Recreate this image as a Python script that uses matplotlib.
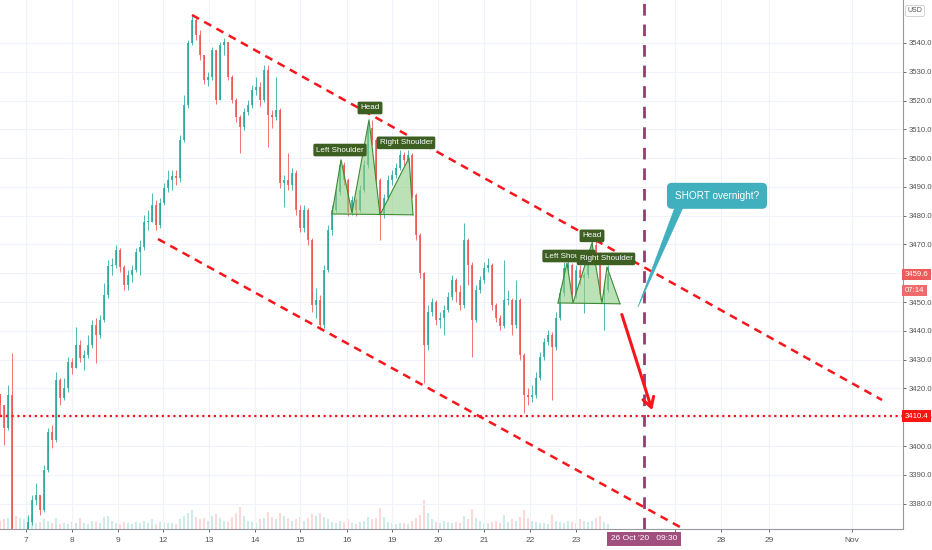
import matplotlib
matplotlib.use("Agg")
import matplotlib.pyplot as plt
from matplotlib import font_manager
from matplotlib.patches import Polygon

# ES 2h candles, 6 Oct - 23 Oct 2020
closes = [3414.3, 3406.3, 3417.8, 3365.7, 3363.3, 3364.6, 3367.4, 3373.7, 3381.3, 3383.1,
          3377.8, 3391.7, 3404.9, 3402.2, 3423.0, 3416.7, 3420.2, 3429.2, 3427.1, 3435.1,
          3430.6, 3431.7, 3435.1, 3442.1, 3438.6, 3443.8, 3452.5, 3462.6, 3462.9, 3468.1,
          3462.2, 3456.0, 3459.4, 3461.2, 3467.4, 3469.2, 3477.9, 3477.9, 3483.7, 3476.8,
          3484.4, 3489.7, 3492.4, 3493.8, 3493.1, 3506.3, 3518.5, 3540.0, 3548.0, 3542.8,
          3535.8, 3527.2, 3528.2, 3537.6, 3520.2, 3539.3, 3540.3, 3528.2, 3520.2, 3514.3,
          3510.8, 3516.0, 3518.5, 3523.7, 3524.7, 3520.2, 3530.6, 3515.0, 3514.3, 3516.7,
          3491.4, 3492.4, 3490.7, 3494.9, 3482.0, 3475.8, 3482.0, 3471.6, 3449.0, 3450.8,
          3442.1, 3461.2, 3475.1, 3482.0, 3488.3, 3497.6, 3492.4, 3481.3, 3485.5, 3482.0,
          3489.0, 3497.6, 3510.5, 3506.3, 3492.4, 3480.3, 3486.2, 3492.4, 3494.2, 3496.6,
          3501.1, 3499.4, 3501.1, 3487.2, 3473.3, 3460.2, 3435.1, 3446.6, 3450.1, 3443.8,
          3444.5, 3447.3, 3451.8, 3457.7, 3453.5, 3449.0, 3471.6, 3462.9, 3443.8, 3454.2,
          3457.7, 3461.9, 3462.9, 3449.0, 3444.5, 3441.7, 3450.8, 3450.8, 3442.1, 3450.8,
          3431.7, 3417.8, 3417.1, 3417.8, 3423.7, 3431.0, 3436.2, 3438.6, 3434.4, 3444.5,
          3453.2, 3461.9, 3462.9, 3452.5, 3461.2, 3458.4, 3459.4, 3465.3, 3469.9, 3466.4,
          3452.5, 3454.2, 3459.6]
highs = [3417.8, 3414.3, 3421.3, 3432.4, 3367.4, 3368.1, 3370.9, 3376.1, 3383.1, 3387.2,
         3383.1, 3393.5, 3406.3, 3407.4, 3425.8, 3423.7, 3423.7, 3431.0, 3430.6, 3441.4,
         3436.9, 3433.4, 3438.6, 3443.8, 3444.5, 3445.6, 3456.7, 3464.7, 3465.3, 3469.9,
         3468.8, 3462.9, 3461.2, 3462.9, 3468.8, 3471.6, 3480.3, 3482.0, 3487.9, 3485.5,
         3486.2, 3491.4, 3495.9, 3495.9, 3495.9, 3508.1, 3521.9, 3541.0, 3549.7, 3548.7,
         3544.5, 3535.8, 3529.9, 3538.6, 3537.6, 3540.3, 3541.7, 3540.3, 3528.9, 3520.9,
         3515.0, 3517.4, 3520.2, 3525.4, 3528.2, 3526.5, 3532.4, 3532.4, 3516.7, 3528.2,
         3517.4, 3494.2, 3501.8, 3496.6, 3495.9, 3483.7, 3483.7, 3482.7, 3472.3, 3454.9,
         3452.5, 3462.9, 3476.8, 3483.7, 3489.7, 3499.4, 3498.7, 3493.1, 3486.9, 3486.2,
         3490.7, 3499.4, 3511.9, 3513.3, 3507.0, 3493.1, 3487.6, 3494.2, 3495.9, 3498.3,
         3502.8, 3502.2, 3502.8, 3501.8, 3487.9, 3474.0, 3460.5, 3449.0, 3451.5, 3450.8,
         3446.6, 3449.0, 3453.5, 3459.4, 3458.4, 3456.0, 3477.5, 3472.3, 3463.9, 3456.0,
         3459.1, 3463.9, 3465.3, 3463.6, 3449.7, 3445.6, 3464.7, 3454.2, 3451.5, 3457.7,
         3451.5, 3432.4, 3420.2, 3421.3, 3425.8, 3432.7, 3437.6, 3440.3, 3439.6, 3446.6,
         3454.9, 3463.9, 3465.3, 3463.6, 3462.9, 3462.9, 3460.5, 3467.4, 3471.6, 3471.6,
         3467.4, 3456.0, 3462.9]
lows = [3410.8, 3400.4, 3405.6, 3360.5, 3358.7, 3360.5, 3362.2, 3365.7, 3372.6, 3379.6,
        3376.1, 3377.2, 3391.0, 3399.4, 3401.5, 3414.3, 3416.0, 3418.8, 3425.1, 3427.1,
        3429.2, 3426.5, 3430.6, 3434.1, 3428.9, 3437.6, 3443.1, 3451.5, 3459.4, 3461.9,
        3460.5, 3454.2, 3454.2, 3457.0, 3460.5, 3459.4, 3468.1, 3475.1, 3477.9, 3475.1,
        3475.8, 3483.7, 3488.3, 3489.0, 3490.7, 3491.7, 3505.6, 3517.4, 3539.3, 3541.0,
        3534.1, 3525.8, 3525.1, 3527.2, 3518.8, 3520.2, 3535.8, 3527.2, 3519.2, 3512.6,
        3501.8, 3509.8, 3515.0, 3517.4, 3521.9, 3518.1, 3519.5, 3503.9, 3510.5, 3513.3,
        3489.7, 3483.0, 3489.0, 3489.0, 3480.3, 3474.4, 3474.4, 3469.9, 3446.6, 3444.5,
        3440.3, 3441.0, 3460.5, 3473.3, 3481.3, 3487.2, 3490.7, 3479.9, 3480.3, 3479.9,
        3481.3, 3488.3, 3496.6, 3504.6, 3490.7, 3471.6, 3479.2, 3485.5, 3490.7, 3493.1,
        3495.9, 3497.6, 3498.7, 3486.2, 3471.6, 3458.4, 3422.0, 3433.4, 3445.2, 3442.1,
        3441.0, 3438.6, 3446.6, 3450.8, 3450.1, 3447.3, 3448.0, 3456.0, 3431.0, 3443.1,
        3453.2, 3456.7, 3460.5, 3447.3, 3443.1, 3440.3, 3441.0, 3449.0, 3438.6, 3441.0,
        3429.9, 3411.5, 3414.3, 3415.3, 3416.7, 3423.0, 3429.9, 3435.1, 3416.0, 3433.4,
        3443.8, 3452.2, 3460.5, 3450.8, 3451.5, 3456.0, 3446.3, 3458.4, 3464.7, 3464.7,
        3450.8, 3440.3, 3453.5]
volumes = [15, 18, 20, 60, 25, 20, 18, 22, 15, 12,
           14, 18, 16, 12, 20, 10, 12, 9, 14, 11,
           20, 12, 10, 16, 13, 11, 22, 25, 15, 12,
           10, 14, 11, 9, 13, 12, 15, 12, 18, 10,
           13, 14, 11, 12, 10, 18, 24, 30, 35, 22,
           18, 20, 15, 25, 28, 20, 16, 14, 22, 30,
           42, 25, 16, 14, 12, 18, 20, 32, 22, 18,
           30, 25, 20, 15, 18, 22, 16, 20, 28, 24,
           30, 22, 18, 14, 12, 16, 14, 18, 12, 10,
           14, 16, 22, 18, 20, 40, 22, 14, 12, 10,
           12, 11, 10, 16, 20, 26, 55, 30, 18, 14,
           12, 15, 13, 11, 14, 12, 24, 18, 38, 20,
           15, 12, 11, 14, 16, 12, 26, 14, 18, 15,
           22, 35, 20, 16, 14, 12, 11, 10, 26, 15,
           14, 12, 16, 14, 12, 18, 15, 14, 16, 20,
           24, 14, 10]
first_open = 3418.0

day_labels = ["7", "8", "9", "12", "13", "14", "15", "16", "19", "20", "21", "22", "23",
              "27", "28", "29", "Nov"]
day_pos = [6.5, 18, 29.5, 40.75, 52.25, 63.75, 75, 86.75, 98, 109.5, 121, 132.5, 144,
           168.75, 180.25, 192.25, 213]

# drawings (bar index, price)
upper_trend = [(48, 3549.7), (220.5, 3416.0)]
lower_trend = [(39.5, 3471.9), (170, 3371.9)]
support = 3410.4
last_price = 3459.6
cursor_bar = 161
hs1 = [(83, 3480.6), (85.25, 3499.4), (88, 3481.0), (92.25, 3513.3), (95, 3480.3),
       (102.25, 3500.1), (103.25, 3480.3)]
hs1_labels = [(85, 3502.8, "Left Shoulder"), (92.5, 3517.4, "Head"), (101.5, 3505.3, "Right Shoulder")]
hs2 = [(139.5, 3449.7), (141.75, 3463.6), (143.25, 3449.7), (148, 3470.6), (150.5, 3449.7),
       (151.75, 3462.2), (155, 3449.4)]
hs2_labels = [(142.25, 3466.0, "Left Shoulder"), (148, 3473.0, "Head"), (151.5, 3465.0, "Right Shoulder")]
arrow_start = (155.25, 3446.6)
arrow_end = (163.25, 3411.5)
callout_pos = (179.25, 3486.9)
callout_tip = (159.5, 3448.3)

UP, DOWN = "#26a69a", "#ef5350"
RED = "#f7161b"
GRID = "#f0f3fa"

names = {f.name for f in font_manager.fontManager.ttflist}
narrow = next((f for f in ("Liberation Sans Narrow", "Liberation Sans", "DejaVu Sans") if f in names),
              "DejaVu Sans")

fig = plt.figure(figsize=(9.32, 5.5), dpi=100)
ax = fig.add_axes([0, 21 / 550, 903 / 932, 529 / 550])
axv = ax.twinx()
ax.set_zorder(axv.get_zorder() + 1)
ax.patch.set_visible(False)

n = len(closes)
xs = list(range(n))
opens = [first_open] + closes[:-1]
cols = [UP if c >= o else DOWN for o, c in zip(opens, closes)]

# volume
axv.bar(xs, volumes, width=0.55, color=cols, alpha=0.22, linewidth=0)
axv.set_ylim(0, 1000)
axv.set_yticks([])
for s in axv.spines.values():
    s.set_visible(False)

# candles
for i in xs:
    o, c = opens[i], closes[i]
    hi = max(highs[i], o, c)
    lo = min(lows[i], o, c)
    ax.vlines(i, lo, hi, color=cols[i], lw=0.7, alpha=0.8, zorder=3)
    ax.bar(i, max(abs(c - o), 0.3), bottom=min(o, c), width=0.5, color=cols[i],
           alpha=0.8, linewidth=0, zorder=3)

# trend lines
for line in (upper_trend, lower_trend):
    ax.plot([p[0] for p in line], [p[1] for p in line], color=RED, lw=1.8,
            ls=(0, (3.2, 2.4)), zorder=5, solid_capstyle="butt")
ax.axhline(support, color=RED, lw=1.6, ls=(0, (1, 1.6)), zorder=5)
ax.axvline(cursor_bar, color="#9b3a72", lw=2, ls=(0, (4.2, 3.2)), zorder=5)

# head and shoulders
for pts, labels in ((hs1, hs1_labels), (hs2, hs2_labels)):
    ax.add_patch(Polygon(pts, closed=True, facecolor="#8fcf86", alpha=0.6,
                         edgecolor="none", zorder=4))
    ax.plot([p[0] for p in pts], [p[1] for p in pts], color="#3f8a35", lw=0.8, zorder=4)
    ax.plot([pts[0][0], pts[-1][0]], [pts[0][1], pts[-1][1]], color="#3f8a35", lw=0.8, zorder=4)
    for x, y, t in labels:
        ax.text(x, y, t, ha="center", va="center", fontsize=5.8, color="white",
                family=narrow, zorder=6,
                bbox=dict(boxstyle="round,pad=0.35,rounding_size=0.2", fc="#3d5f22", ec="none"))

# short arrow
ax.annotate("", xy=arrow_end, xytext=arrow_start, zorder=6,
            arrowprops=dict(arrowstyle="->,head_length=0.7,head_width=0.4", color=RED, lw=2.2))

# callout
cx, cy = callout_pos
ax.add_patch(Polygon([(cx - 10.5, cy - 4), (cx - 8.5, cy - 4), callout_tip], closed=True,
                     facecolor="#41b0be", edgecolor="#41b0be", lw=0.5, zorder=6))
ax.text(cx, cy, "SHORT overnight?", ha="center", va="center", fontsize=7.2, color="white",
        family=narrow, zorder=7,
        bbox=dict(boxstyle="round,pad=0.8,rounding_size=0.5", fc="#41b0be", ec="none"))

# axes
ax.set_xlim(0, 225.75)
ax.set_ylim(3371.2, 3554.9)
ax.yaxis.tick_right()
ax.set_yticks(range(3380, 3541, 10))
ax.set_yticklabels([f"{v:.1f}" for v in range(3380, 3541, 10)])
ax.set_xticks(day_pos)
ax.set_xticklabels(day_labels)
ax.tick_params(axis="both", colors="#555555", length=2.5, width=0.6)
ax.tick_params(axis="x", labelsize=6, pad=3)
ax.tick_params(axis="y", labelsize=5.6, pad=1.5)
for lab in ax.get_xticklabels() + ax.get_yticklabels():
    lab.set_family(narrow)
ax.grid(True, color=GRID, lw=0.8)
ax.set_axisbelow(True)
for side in ("top", "left"):
    ax.spines[side].set_visible(False)
for side in ("right", "bottom"):
    ax.spines[side].set_color("#9598a1")
    ax.spines[side].set_linewidth(0.8)

# price tags
ytr = ax.get_yaxis_transform()
tag = dict(transform=ytr, ha="left", va="center", fontsize=5.6, color="white",
           family=narrow, zorder=8, clip_on=False)
ax.text(1.002, last_price, f"{last_price:.1f}", bbox=dict(boxstyle="square,pad=0.3", fc="#ef5a5a", ec="none"), **tag)
ax.text(1.002, last_price - 5.6, "07:14", bbox=dict(boxstyle="square,pad=0.3", fc="#f06b6b", ec="none"), **tag)
ax.text(1.002, support, f"{support:.1f}", bbox=dict(boxstyle="square,pad=0.3", fc="#ff1414", ec="none"), **tag)
ax.text(cursor_bar, -0.012, "26 Oct '20   09:30", transform=ax.get_xaxis_transform(),
        ha="center", va="top", fontsize=6, color="white", family=narrow, zorder=9,
        clip_on=False, bbox=dict(boxstyle="square,pad=0.45", fc="#a04f7e", ec="none"))
fig.text(915 / 932, 1 - 11 / 550, "USD", ha="center", va="center", fontsize=5,
         color="#555555", family=narrow,
         bbox=dict(boxstyle="round,pad=0.3", fc="white", ec="#c9cbd1", lw=0.6))

fig.savefig("out.png", dpi=100)
